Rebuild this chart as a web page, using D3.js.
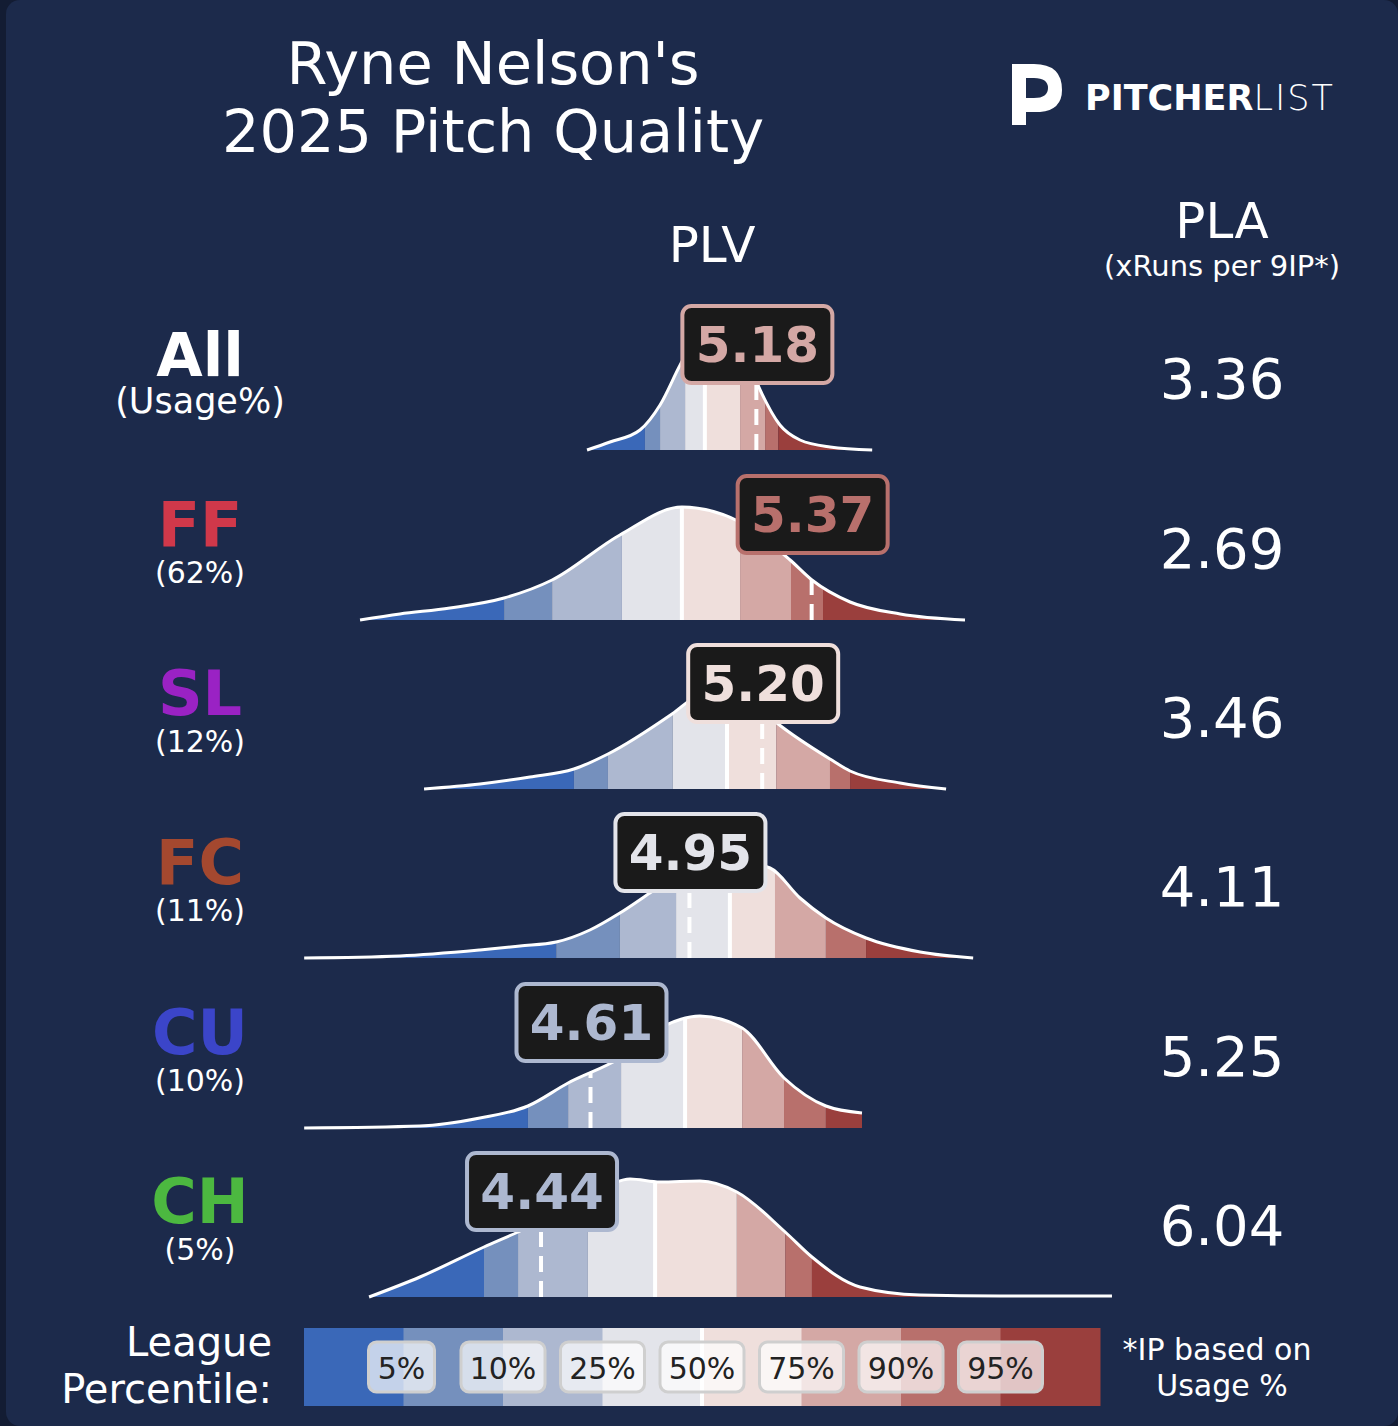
<!DOCTYPE html><html><head><meta charset="utf-8">
<script src="https://cdn.jsdelivr.net/npm/d3@7/dist/d3.min.js"></script>
<style>body{margin:0;background:#131c33}svg{display:block}</style></head><body>
<script>
const pitches=["All","FF","SL","FC","CU","CH"];
const usage=["(Usage%)","(62%)","(12%)","(11%)","(10%)","(5%)"];
const pitchColors=["#ffffff","#d0384a","#9a22c4","#a4482f","#3b45c9","#4cb840"];
const plv=[5.18,5.37,5.20,4.95,4.61,4.44];
const pla=["3.36","2.69","3.46","4.11","5.25","6.04"];
const pctLabels=["5%","10%","25%","50%","75%","90%","95%"];
const bandColors=["#3a68b8","#7590bd","#adb8d0","#e3e4ea","#efdfdc","#d4a8a5","#b8706c","#9a3f3d"];
// league percentile cut points (PLV) per pitch: 5,10,25,50,75,90,95
const cuts=[
 [4.797,4.849,4.935,5.003,5.124,5.210,5.255],
 [4.313,4.478,4.718,4.924,5.124,5.299,5.409],
 [4.553,4.670,4.893,5.079,5.248,5.433,5.502],
 [4.492,4.711,4.904,5.089,5.244,5.419,5.557],
 [4.395,4.533,4.715,4.935,5.131,5.275,5.419],
 [4.244,4.361,4.601,4.832,5.113,5.279,5.371]];
// density curves: [PLV, density]
const dens=[
 [[4.598,0],[4.677,8],[4.780,20],[4.849,45],[4.918,85],[4.986,120],[5.055,132],[5.124,110],[5.193,60],[5.261,25],[5.330,10],[5.433,3],[5.578,0]],
 [[3.818,0],[3.955,6],[4.127,12],[4.313,22],[4.478,40],[4.711,85],[4.924,113],[5.124,98],[5.296,60],[5.371,40],[5.502,18],[5.674,6],[5.897,0]],
 [[4.038,0],[4.230,5],[4.402,12],[4.553,20],[4.670,35],[4.890,75],[4.986,95],[5.055,100],[5.193,80],[5.255,65],[5.433,30],[5.502,18],[5.674,6],[5.832,0]],
 [[3.626,0],[3.955,2],[4.230,8],[4.368,12],[4.492,16],[4.608,28],[4.711,45],[4.814,65],[4.918,85],[5.055,100],[5.227,90],[5.330,60],[5.419,40],[5.557,20],[5.743,6],[5.925,0]],
 [[3.626,0],[4.024,2],[4.230,10],[4.395,22],[4.533,45],[4.711,70],[4.849,100],[4.986,112],[5.131,100],[5.275,50],[5.419,22],[5.543,15]],
 [[3.849,0],[4.024,20],[4.244,50],[4.361,65],[4.505,85],[4.608,100],[4.746,118],[4.849,115],[4.986,116],[5.113,105],[5.279,65],[5.371,40],[5.536,10],[5.743,2],[6.017,1],[6.402,1]]];
const boxColorIdx=[5,6,4,3,2,2];

const W=1398,H=1426;
const svg=d3.select("body").append("svg").attr("width",W).attr("height",H);
svg.append("rect").attr("x",6).attr("y",0).attr("width",W-6).attr("height",H).attr("rx",14).attr("fill","#1c2a4b");
const x=d3.scaleLinear().domain([3.6,6.42]).range([296.6,1117.2]);
const yh=d3.scaleLinear().domain([0,120]).range([0,120]);
const font="DejaVu Sans, sans-serif";
const T=(t,px,py,sz,o={})=>svg.append("text").attr("x",px).attr("y",py).attr("font-family",font).attr("font-size",sz).attr("fill",o.fill||"#fff").attr("font-weight",o.w||"normal").attr("text-anchor",o.a||"middle").text(t);

T("Ryne Nelson's",493,84,59);T("2025 Pitch Quality",493,152,59);
T("PLV",712,262,50);T("PLA",1222,238,50);T("(xRuns per 9IP*)",1222,276,29);
// logo
svg.append("path").attr("d","M1012,125 L1012,64 L1034,64 Q1062,64 1062,90 Q1062,110 1040,112 L1026,112 L1026,125 Z M1026,78 L1026,98 L1034,98 Q1048,98 1048,88 Q1048,78 1034,78 Z").attr("fill","#fff").attr("fill-rule","evenodd");
const lg=svg.append("text").attr("x",1085).attr("y",110).attr("font-family",font).attr("font-size",35).attr("fill","#fff");
lg.append("tspan").attr("font-weight","bold").text("PITCHER");lg.append("tspan").attr("font-weight","200").attr("letter-spacing",2).text("LIST");

const base=[450,620,789,958,1128,1297];
const defs=svg.append("defs");
pitches.forEach((p,i)=>{
  const b=base[i], d=dens[i];
  T(p,200,b-74,i==0?60:62,{w:"bold",fill:pitchColors[i]});
  T(usage[i],200,b-37,i==0?35:30);
  T(pla[i],1222,b-52,56);
  const area=d3.area().x(v=>x(v[0])).y0(b).y1(v=>b-yh(v[1])).curve(d3.curveMonotoneX);
  const line=d3.line().x(v=>x(v[0])).y(v=>b-yh(v[1])).curve(d3.curveMonotoneX);
  defs.append("clipPath").attr("id","c"+i).append("path").attr("d",area(d));
  const g=svg.append("g").attr("clip-path","url(#c"+i+")");
  const edges=[3.6,...cuts[i],6.42];
  bandColors.forEach((c,k)=>g.append("rect").attr("x",x(edges[k])).attr("width",x(edges[k+1])-x(edges[k])).attr("y",b-140).attr("height",140).attr("fill",c));
  g.append("line").attr("x1",x(cuts[i][3])).attr("x2",x(cuts[i][3])).attr("y1",b-140).attr("y2",b).attr("stroke","#fff").attr("stroke-width",4);
  g.append("line").attr("x1",x(plv[i])).attr("x2",x(plv[i])).attr("y1",b).attr("y2",b-140).attr("stroke","#fff").attr("stroke-width",4).attr("stroke-dasharray","16,9");
  svg.append("path").attr("d",line(d)).attr("fill","none").attr("stroke","#fff").attr("stroke-width",3);
  const bc=bandColors[boxColorIdx[i]];
  svg.append("rect").attr("x",x(plv[i])-74).attr("y",b-144).attr("width",150).attr("height",77).attr("rx",9).attr("fill","#1a1a1a").attr("stroke",bc).attr("stroke-width",4);
  T(plv[i].toFixed(2),x(plv[i])+1,b-88,50,{w:"bold",fill:bc});
});
// legend
const lx=d3.scaleLinear().domain([0,8]).range([304,1100]);
bandColors.forEach((c,k)=>svg.append("rect").attr("x",lx(k)).attr("y",1328).attr("width",lx(k+1)-lx(k)+0.5).attr("height",78).attr("fill",c));
svg.append("rect").attr("x",lx(4)-2).attr("y",1328).attr("width",4).attr("height",78).attr("fill","#fff");
pctLabels.forEach((t,k)=>{
  const cx=lx(k+1)+(k==0?-2:0);
  svg.append("rect").attr("x",cx-(k==0?33:42)).attr("y",1342).attr("width",k==0?66:84).attr("height",50).attr("rx",8).attr("fill","rgba(255,255,255,0.7)").attr("stroke","#cfcfcf").attr("stroke-width",3);
  T(t,cx,1379,30,{fill:"#222"});
});
T("League",272,1356,40,{a:"end"});T("Percentile:",272,1403,40,{a:"end"});
T("*IP based on",1217,1360,30);T("Usage %",1222,1396,30);
</script></body></html>
